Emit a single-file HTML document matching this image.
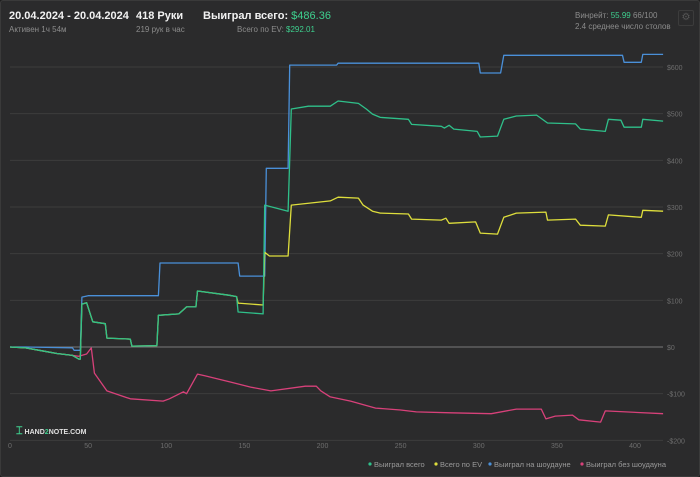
<!DOCTYPE html>
<html><head><meta charset="utf-8">
<style>
html,body{margin:0;padding:0;background:#1e1e1e;}
#wrap{position:relative;width:698px;height:475px;margin:0;background:#2b2b2c;border:1px solid #3a3a3a;border-radius:3px;overflow:hidden;font-family:"Liberation Sans","Noto Sans CJK SC",sans-serif;}
.t{position:absolute;white-space:nowrap;}
.b{color:#f2f2f2;font-size:11px;font-weight:bold;}
.s{color:#8c8c8c;font-size:8px;}
.g{color:#3ecf8e;}
svg{position:absolute;left:0;top:0;}
</style></head><body>
<div id="wrap">
<div class="t b" style="left:8px;top:9px">20.04.2024 - 20.04.2024</div>
<div class="t s" style="left:8px;top:24px">Активен 1ч 54м</div>
<div class="t b" style="left:135px;top:9px">418 Руки</div>
<div class="t s" style="left:135px;top:24px">219 рук в час</div>
<div class="t b" style="left:202px;top:9px">Выиграл всего: <span class="g" style="font-weight:normal">$486.36</span></div>
<div class="t s" style="left:236px;top:24px">Всего по EV: <span class="g">$292.01</span></div>
<div class="t s" style="left:574px;top:10px">Винрейт: <span class="g">55.99</span> 66/100</div>
<div class="t s" style="left:574px;top:21px">2.4 среднее число столов</div>
<div class="t" style="left:677px;top:9px;width:14px;height:14px;border:1px solid #3c3c3c;border-radius:2px;color:#555;font-size:10px;text-align:center;line-height:14px">⚙</div>
<svg id="chart" width="700" height="477"></svg>
<div class="t" style="left:15px;top:424px;font-size:7px;color:#e0e0e0;font-weight:bold"><span style="color:#3ecf8e;font-size:11px">⌶</span> HAND<span class="g">2</span>NOTE.COM</div>
</div>
<script>
const hBlue=[0,10,40,41,45,46,50,95,96,146,147,163,164,178,179,209,210,300,301,314,316,392,393,404,405,418];
const vBlue=[0,0,-2,-7,-7,107,110,110,180,180,152,152,383,383,604,604,608,608,587,587,625,625,610,610,627,627];
const hGreen=[0,10,20,30,40,44,45,46,49,53,61,62,77,78,94,95,108,113,119,120,140,145,146,162,163,178,180,191,205,210,223,228,232,237,255,257,276,278,281,284,299,301,312,316,324,337,344,362,365,381,383,391,393,404,405,418];
const vGreen=[0,-2,-8,-14,-18,-26,-26,92,95,54,50,19,17,2,3,68,71,86,86,120,111,108,75,71,304,291,510,516,516,527,522,510,499,492,488,477,473,469,475,467,462,450,452,488,495,497,480,478,467,462,488,486,471,471,488,484];
const hYellow=[0,10,20,30,40,44,45,46,49,53,61,62,77,78,94,95,108,113,119,120,140,145,146,162,163,166,178,180,205,210,223,226,232,237,255,257,276,279,281,298,301,312,316,324,343,344,362,365,381,383,404,405,418];
const vYellow=[0,-2,-8,-14,-18,-26,-26,92,95,54,50,19,17,2,3,68,71,86,86,120,111,108,94,90,203,195,195,304,313,321,319,304,291,287,285,274,272,276,265,268,244,242,278,287,289,272,274,261,259,283,278,293,291];
const hRed=[0,10,20,30,40,44,49,52,54,62,77,98,102,111,113,120,125,141,154,167,189,196,199,205,218,234,250,260,282,308,324,340,343,349,360,364,378,381,418];
const vRed=[0,-2,-8,-14,-18,-20,-15,-2,-56,-94,-111,-116,-111,-96,-100,-58,-62,-75,-86,-94,-84,-84,-94,-107,-116,-131,-135,-139,-141,-143,-133,-133,-154,-148,-146,-156,-161,-137,-143];
const yTicks=[600,500,400,300,200,100,0,-100,-200];
const xTicks=[0,50,100,150,200,250,300,350,400];
const legendLabels=["Выиграл всего","Всего по EV","Выиграл на шоудауне","Выиграл без шоудауна"];
const legendColors=["#2fc08a","#dede3c","#4a90d9","#d8417a"];

const NS="http://www.w3.org/2000/svg";
const svg=document.getElementById('chart');
const X=h=>9+h*1.5625;
const Y=v=>346-v*0.4667;
function mk(tag,attrs){const e=document.createElementNS(NS,tag);for(const k in attrs)e.setAttribute(k,attrs[k]);svg.appendChild(e);return e;}
yTicks.forEach(v=>{
  const l=mk('line',{x1:9,x2:662,y1:Y(v),y2:Y(v),stroke:v===0?'#7a7a7a':'#3c3c3d','stroke-width':1});
  
  
  const t=mk('text',{x:666,y:Y(v)+3,fill:'#6e6e6e','font-size':7,'font-family':'Liberation Sans, sans-serif'});
  t.textContent=(v<0?'-$':'$')+Math.abs(v);
  
  
});
xTicks.forEach(h=>{
  const t=mk('text',{x:X(h),y:447,fill:'#6e6e6e','font-size':7,'text-anchor':'middle','font-family':'Liberation Sans, sans-serif'});
  t.textContent=h;
  
  
});
function series(hs,vs,color,name){
  const p=mk('polyline',{points:hs.map((h,i)=>X(h).toFixed(1)+','+Y(vs[i]).toFixed(1)).join(' '),fill:'none',stroke:color,'stroke-width':1.3,'stroke-linejoin':'round'});
  
  
}
series(hRed,vRed,legendColors[3],'series-no-showdown');
series(hBlue,vBlue,legendColors[2],'series-showdown');
series(hYellow,vYellow,legendColors[1],'series-ev');
series(hGreen,vGreen,legendColors[0],'series-total');
const lx=[369,435,489,581];
legendLabels.forEach((s,i)=>{
  const c=mk('circle',{cx:lx[i],cy:463,r:1.6,fill:legendColors[i]});
  
  
  const t=mk('text',{x:lx[i]+4,y:466,fill:'#9a9a9a','font-size':7.5,'font-family':'Liberation Sans, sans-serif'});
  t.textContent=s;
  
  
});
</script>
</body></html>
